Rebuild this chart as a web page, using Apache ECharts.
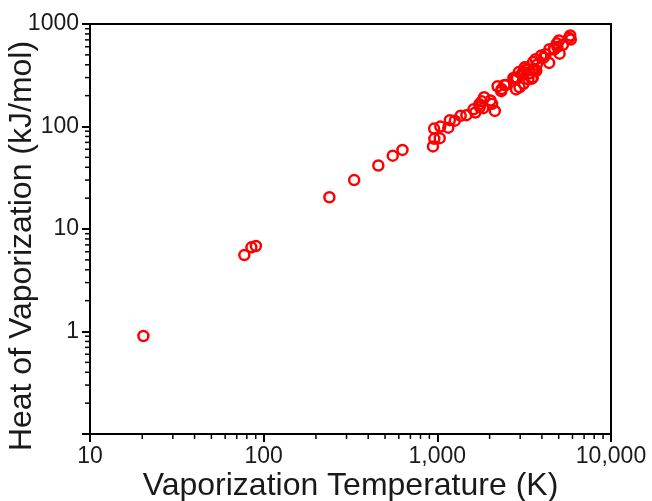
<!DOCTYPE html>
<html>
<head>
<meta charset="utf-8">
<script src="https://cdn.jsdelivr.net/npm/echarts@6/dist/echarts.min.js"></script>
<style>
html,body{margin:0;padding:0;background:#fff;}
#chart{width:652px;height:501px;}
</style>
</head>
<body>
<div id="chart"></div>
<script>
// Vaporization temperature (K)
const temps = [20.3, 77.4, 85.0, 90.2, 239.1, 332.0, 457.4, 553.7, 629.9,
  944, 958, 961, 1032, 1040, 1156, 1180, 1261, 1363, 1469, 1615, 1655, 1746, 1757,
  1802, 1837, 1860, 2022, 2067, 2143, 2223, 2334, 2345, 2435, 2477, 2742, 2792,
  2835, 2840, 2875, 2944, 2973, 3106, 3109, 3129, 3134, 3141, 3186, 3200, 3236,
  3347, 3403, 3503, 3538, 3546, 3560, 3609, 3675, 3716, 3737, 3680, 3968, 4098,
  4200, 4404, 4423, 4682, 4701, 4876, 4912, 5017, 5061, 5285, 5731, 5828, 5869];
// Heat of vaporization (kJ/mol)
const heats = [0.904, 5.57, 6.62, 6.82, 20.4, 30.0, 41.6, 51.9, 59.1,
  63.9, 95.5, 75.8, 76.9, 99.9, 97.4, 115.3, 114.1, 127.4, 128.9, 147.1, 136.9, 165, 154.7,
  176, 151, 193, 179.5, 166.4, 142, 247, 221, 231.8, 254, 254, 297, 294,
  300.4, 230, 296.1, 339.5, 241, 334, 332.7, 324, 340, 261, 377.5, 377, 357,
  289, 331, 293, 359, 301, 425, 363, 356, 350, 400, 453, 494, 469,
  508, 417, 568, 573, 564, 648, 598, 690, 514, 628, 733, 774, 705];

const xTickLabels = {10: '10', 100: '100', 1000: '1,000', 10000: '10,000'};
const yTickLabels = {1: '1', 10: '10', 100: '100', 1000: '1000'};

const points = temps.map((t, i) => [t, heats[i]]);

const xMinor = [], yMinor = [];
for (let k = 1; k <= 3; k++) for (let m = 2; m <= 9; m++) xMinor.push([Number((m * Math.pow(10, k)).toPrecision(3)), 0.1]);
for (let k = -1; k <= 2; k++) for (let m = 2; m <= 9; m++) yMinor.push([10, Number((m * Math.pow(10, k)).toPrecision(3))]);

const FONT = '"Liberation Sans", Arial, sans-serif';
const TXT = '#1a1a1a';

function minorTicks(data, dir) {
  return {
    type: 'custom', silent: true, clip: false, z: 5, data: data,
    renderItem: function (params, api) {
      const p = api.coord([api.value(0), api.value(1)]);
      const shape = dir === 'x'
        ? {x1: p[0], y1: p[1], x2: p[0], y2: p[1] + 5}
        : {x1: p[0], y1: p[1], x2: p[0] - 5, y2: p[1]};
      return {type: 'line', shape: shape, style: {stroke: '#000', lineWidth: 1.5}};
    }
  };
}

const chart = echarts.init(document.getElementById('chart'), null, {renderer: 'canvas'});
chart.setOption({
  animation: false,
  backgroundColor: '#fff',
  grid: {left: 90, right: 41, top: 24, bottom: 67, show: true, borderColor: '#000', borderWidth: 2,
    containLabel: false, outerBoundsMode: 'none'},
  xAxis: {
    type: 'log', logBase: 10, min: 10, max: 10000,
    name: 'Vaporization Temperature (K)', nameLocation: 'middle', nameGap: 36, nameMoveOverlap: false,
    nameTextStyle: {fontSize: 32, color: TXT, fontFamily: FONT},
    axisLine: {show: true, onZero: false, lineStyle: {color: '#000', width: 2}},
    axisTick: {show: true, inside: false, length: 8, lineStyle: {color: '#000', width: 2}},
    axisLabel: {fontSize: 23, color: TXT, fontFamily: FONT, margin: 11, showMaxLabel: true, showMinLabel: true,
      formatter: v => xTickLabels[Math.round(v)] || ''},
    splitLine: {show: false}
  },
  yAxis: {
    type: 'log', logBase: 10, min: 0.1, max: 1000,
    name: 'Heat of Vaporization (kJ/mol)', nameLocation: 'middle', nameGap: 52, nameRotate: 90, nameMoveOverlap: false,
    nameTextStyle: {fontSize: 32, color: TXT, fontFamily: FONT, padding: [0, 34, 0, 0]},
    axisLine: {show: true, onZero: false, lineStyle: {color: '#000', width: 2}},
    axisTick: {show: true, inside: false, length: 8, lineStyle: {color: '#000', width: 2}},
    axisLabel: {fontSize: 23, color: TXT, fontFamily: FONT, margin: 11, showMaxLabel: true,
      formatter: v => (v >= 1 ? (yTickLabels[Math.round(v)] || '') : '')},
    splitLine: {show: false}
  },
  series: [
    minorTicks(xMinor, 'x'),
    minorTicks(yMinor, 'y'),
    {
      type: 'scatter', data: points, symbol: 'circle', symbolSize: 10, z: 10,
      itemStyle: {color: 'rgba(255,255,255,0)', borderColor: '#ff0000', borderWidth: 2.5, opacity: 1}
    }
  ]
});
</script>
</body>
</html>
